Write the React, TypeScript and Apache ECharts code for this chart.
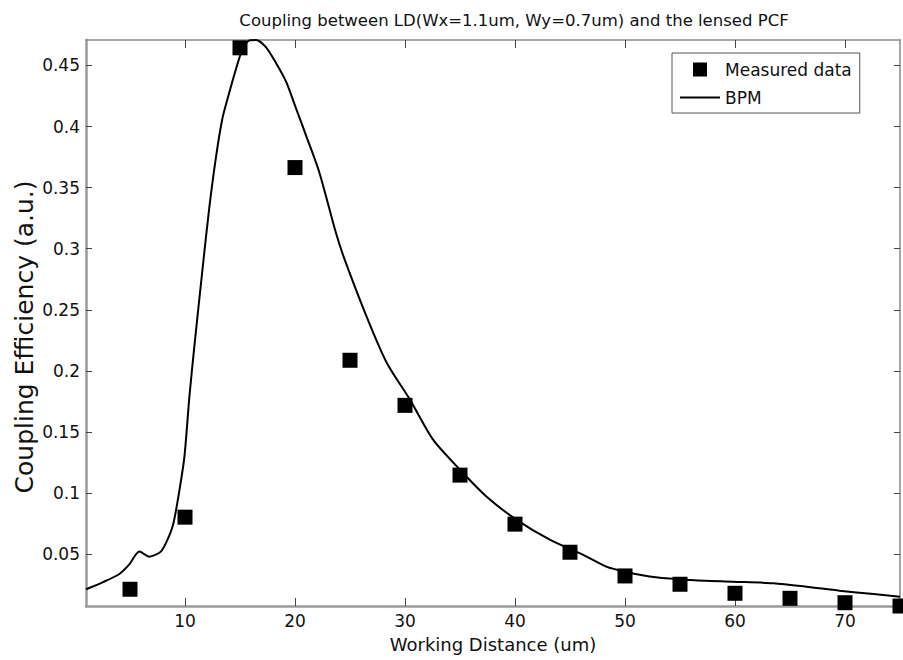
import React, { useEffect, useRef } from "react";
import * as echarts from "echarts";

const FONT = "DejaVu Sans";

const titleText = "Coupling between LD(Wx=1.1um, Wy=0.7um) and the lensed PCF";
const xAxisTitle = "Working Distance (um)";
const yAxisTitle = "Coupling Efficiency (a.u.)";
const seriesNames = ["Measured data", "BPM"];

const measuredX = [5, 10, 15, 20, 25, 30, 35, 40, 45, 50, 55, 60, 65, 70, 75];
const measuredY = [0.0213, 0.0803, 0.4644, 0.3664, 0.2087, 0.1718, 0.1147, 0.0746, 0.0516, 0.0322, 0.0254, 0.018, 0.0139, 0.0103, 0.0076];

const bpmX = [1.0, 2.5, 4.0, 4.9, 5.85, 6.75, 7.8, 8.4, 8.95, 9.5, 9.95, 10.4, 10.85, 11.6, 12.2, 12.8, 13.4, 14.0, 14.65, 15.25, 15.85, 16.45, 17.35, 18.3, 19.2, 20.1, 21.0, 22.2, 23.7, 24.4, 26.5, 28.35, 30.45, 32.55, 35.0, 37.4, 40.15, 43.2, 46.2, 48.3, 50.0, 52.8, 55.9, 59.8, 63.5, 66.5, 69.5, 72.6, 75.0];
const bpmY = [0.0213, 0.027, 0.0336, 0.0412, 0.0521, 0.048, 0.0521, 0.0617, 0.0754, 0.1027, 0.13, 0.179, 0.22, 0.284, 0.333, 0.374, 0.4065, 0.427, 0.4475, 0.464, 0.4705, 0.4708, 0.465, 0.4516, 0.4365, 0.4147, 0.3928, 0.3628, 0.3136, 0.294, 0.2447, 0.2065, 0.1765, 0.1437, 0.1191, 0.0972, 0.0781, 0.0617, 0.0494, 0.0398, 0.0357, 0.0311, 0.0289, 0.0275, 0.0262, 0.0234, 0.0201, 0.0174, 0.0152];

const xTicks = [10, 20, 30, 40, 50, 60, 70];
const yTicks = [0.05, 0.1, 0.15, 0.2, 0.25, 0.3, 0.35, 0.4, 0.45];
const xRange = [1, 75];
const yRange = [0.0076, 0.4708];

export default function App() {
  const ref = useRef<HTMLDivElement>(null);
  useEffect(() => {
    if (!ref.current) return;
    const chart = echarts.init(ref.current, null, { renderer: "svg" });
    const mainLine = { show: true, onZero: false, lineStyle: { color: "#9a9a9a", width: 2.5 } };
    const sideLine = { show: true, onZero: false, lineStyle: { color: "#8a8a8a", width: 1.5 } };
    const labelStyle = { fontFamily: FONT, fontSize: 17, color: "#111" };
    const option: any = {
      animation: false,
      backgroundColor: "#fff",
      title: {
        text: titleText,
        left: 514,
        top: 12,
        padding: 0,
        textAlign: "center",
        textStyle: { fontFamily: FONT, fontSize: 16.5, fontWeight: "normal", color: "#111" },
      },
      grid: { left: 86, right: 3, top: 40, bottom: 54, containLabel: false },
      legend: {
        orient: "vertical",
        left: 672,
        top: 53,
        padding: [8, 8, 7, 8],
        itemWidth: 40,
        itemHeight: 14,
        itemGap: 11,
        backgroundColor: "#fff",
        borderColor: "#555",
        borderWidth: 1,
        selectedMode: false,
        textStyle: { fontFamily: FONT, fontSize: 17, color: "#111", lineHeight: 14 },
        data: [
          { name: seriesNames[0], icon: "path://M0,0L10,0L10,10L0,10Z", itemStyle: { color: "#000", opacity: 1 } },
          { name: seriesNames[1], icon: "path://M0,0L40,0L40,1.8L0,1.8Z", itemStyle: { color: "#000", opacity: 1 } },
        ],
      },
      xAxis: [
        {
          type: "value",
          min: xRange[0],
          max: xRange[1],
          position: "bottom",
          axisLine: mainLine,
          axisTick: { show: true, inside: true, length: 8, customValues: xTicks, lineStyle: { color: "#444", width: 1 } },
          axisLabel: { show: true, customValues: xTicks, margin: 6, ...labelStyle },
          splitLine: { show: false },
          name: xAxisTitle,
          nameLocation: "middle",
          nameGap: 29,
          nameTextStyle: { fontFamily: FONT, fontSize: 18, color: "#111" },
        },
        {
          type: "value",
          min: xRange[0],
          max: xRange[1],
          position: "top",
          axisLine: sideLine,
          axisTick: { show: true, inside: true, length: 8, customValues: xTicks, lineStyle: { color: "#444", width: 1 } },
          axisLabel: { show: false },
          splitLine: { show: false },
        },
      ],
      yAxis: [
        {
          type: "value",
          min: yRange[0],
          max: yRange[1],
          position: "left",
          axisLine: mainLine,
          axisTick: { show: true, inside: true, length: 6, customValues: yTicks, lineStyle: { color: "#444", width: 1 } },
          axisLabel: {
            show: true,
            customValues: yTicks,
            margin: 6,
            formatter: (v: number) => String(Math.round(v * 100) / 100),
            ...labelStyle,
          },
          splitLine: { show: false },
        },
        {
          type: "value",
          min: yRange[0],
          max: yRange[1],
          position: "right",
          axisLine: sideLine,
          axisTick: { show: true, inside: true, length: 6, customValues: yTicks, lineStyle: { color: "#444", width: 1 } },
          axisLabel: { show: false },
          splitLine: { show: false },
        },
      ],
      graphic: [
        {
          type: "text",
          x: 24,
          y: 337,
          rotation: Math.PI / 2,
          style: {
            text: yAxisTitle,
            fontFamily: FONT,
            fontSize: 25,
            fill: "#111",
            align: "center",
            verticalAlign: "middle",
          },
        },
      ],
      series: [
        {
          name: seriesNames[0],
          type: "scatter",
          xAxisIndex: 0,
          yAxisIndex: 0,
          symbol: "rect",
          symbolSize: 15,
          clip: false,
          z: 4,
          itemStyle: { color: "#000", opacity: 1 },
          data: measuredX.map((x, i) => [x, measuredY[i]]),
        },
        {
          name: seriesNames[1],
          type: "line",
          xAxisIndex: 0,
          yAxisIndex: 0,
          symbol: "none",
          showSymbol: false,
          smooth: 0.25,
          z: 3,
          itemStyle: { color: "#000" },
          lineStyle: { color: "#000", width: 2 },
          data: bpmX.map((x, i) => [x, bpmY[i]]),
        },
      ],
    };
    chart.setOption(option);
    return () => chart.dispose();
  }, []);
  return (
    <div
      ref={ref}
      style={{ position: "absolute", left: 0, top: 0, width: 903, height: 660, background: "#fff" }}
    />
  );
}
